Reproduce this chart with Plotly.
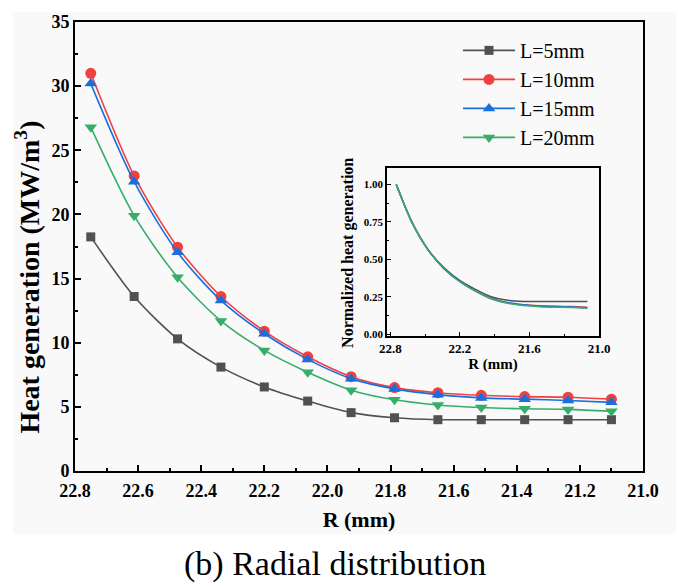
import plotly.graph_objects as go

# ---- data ----
R_mm = [22.75, 22.6125, 22.475, 22.3375, 22.2, 22.0625, 21.925,
        21.7875, 21.65, 21.5125, 21.375, 21.2375, 21.1]
L5 = [18.25, 13.6, 10.3, 8.1, 6.55, 5.45, 4.55, 4.15, 4.0, 4.0, 4.0, 4.0, 4.0]
L10 = [31.0, 23.0, 17.45, 13.6, 10.9, 8.9, 7.35, 6.5, 6.1, 5.9, 5.8, 5.75, 5.6]
L15 = [30.2, 22.55, 17.05, 13.3, 10.7, 8.7, 7.2, 6.4, 5.95, 5.7, 5.6, 5.5, 5.35]
L20 = [26.8, 19.9, 15.1, 11.7, 9.4, 7.7, 6.3, 5.55, 5.15, 4.95, 4.85, 4.8, 4.65]
names = ["L=5mm", "L=10mm", "L=15mm", "L=20mm"]
series = [L5, L10, L15, L20]
colors = ["#515151", "#F14040", "#1A6FDF", "#37AD6B"]
symbols = ["square", "circle", "triangle-up", "triangle-down"]
msizes = [9, 11, 11, 11]
x_ticks = [22.8, 22.6, 22.4, 22.2, 22.0, 21.8, 21.6, 21.4, 21.2, 21.0]
y_ticks = [0, 5, 10, 15, 20, 25, 30, 35]
inset_x_ticks = [22.8, 22.2, 21.6, 21.0]
inset_y_ticks = [0.0, 0.25, 0.5, 0.75, 1.0]

W, H = 678, 588
L_, R_, T_, B_ = 75, 35, 16, 117
pw = W - L_ - R_
ph = H - T_ - B_

def px(x):
    return (x - L_) / pw

def py(y):
    return (H - B_ - y) / ph

FONT = "Liberation Serif"
BG = "#f9f9f9"

fig = go.Figure()
for name, ys, c, s, ms in zip(names, series, colors, symbols, msizes):
    fig.add_trace(go.Scatter(
        x=R_mm, y=ys, name=name, mode="lines+markers",
        line=dict(color=c, width=1.6, shape="spline", smoothing=0.8),
        marker=dict(symbol=s, size=ms, color=c),
        xaxis="x", yaxis="y"))

for name, ys, c in zip(names, series, colors):
    norm = [v / ys[0] for v in ys]
    fig.add_trace(go.Scatter(
        x=R_mm, y=norm, name=name, mode="lines", showlegend=False,
        line=dict(color=c, width=1.5, shape="spline", smoothing=0.8),
        xaxis="x2", yaxis="y2"))

def bold(vals, fmt):
    return [f"<b>{v:{fmt}}</b>" for v in vals]

fig.update_layout(
    width=W, height=H,
    margin=dict(l=L_, r=R_, t=T_, b=B_),
    paper_bgcolor="white", plot_bgcolor=BG,
    font=dict(family=FONT, color="black"),
    showlegend=True,
    legend=dict(x=px(458), y=py(25), xanchor="left", yanchor="top",
                bgcolor="rgba(0,0,0,0)", font=dict(family=FONT, size=20, color="black"),
                itemwidth=52, tracegroupgap=0),
    xaxis=dict(range=[22.8, 21.0], tickvals=x_ticks, ticktext=bold(x_ticks, ".1f"),
               ticks="inside", ticklen=6, tickwidth=1.5, tickcolor="black",
               minor=dict(dtick=0.1, ticks="inside", ticklen=3, tickwidth=1.5, tickcolor="black"),
               showline=True, linecolor="black", linewidth=2, mirror=True,
               showgrid=False, zeroline=False, ticklabelstandoff=2,
               tickfont=dict(family=FONT, size=18, color="black"),
               title=dict(text="<b>R (mm)</b>", font=dict(family=FONT, size=22), standoff=12)),
    yaxis=dict(range=[0, 35], tickvals=y_ticks, ticktext=bold(y_ticks, "d"),
               ticks="inside", ticklen=6, tickwidth=1.5, tickcolor="black",
               minor=dict(dtick=2.5, ticks="inside", ticklen=3, tickwidth=1.5, tickcolor="black"),
               showline=True, linecolor="black", linewidth=2, mirror=True,
               showgrid=False, zeroline=False,
               tickfont=dict(family=FONT, size=18, color="black")),
    xaxis2=dict(domain=[px(387), px(599)], anchor="y2", range=[22.83, 21.0],
                tickvals=inset_x_ticks, ticktext=bold(inset_x_ticks, ".1f"),
                ticks="inside", ticklen=4, tickwidth=1, tickcolor="black",
                minor=dict(dtick=0.3, ticks="inside", ticklen=2, tickwidth=1, tickcolor="black"),
                showline=True, linecolor="black", linewidth=1.5, mirror=True,
                showgrid=False, zeroline=False,
                tickfont=dict(family=FONT, size=13, color="black"),
                title=dict(text="<b>R (mm)</b>", font=dict(family=FONT, size=15), standoff=1)),
    yaxis2=dict(domain=[py(334), py(164)], anchor="x2", range=[-0.01, 1.11],
                tickvals=inset_y_ticks, ticktext=bold(inset_y_ticks, ".2f"),
                ticks="inside", ticklen=4, tickwidth=1, tickcolor="black",
                minor=dict(dtick=0.125, ticks="inside", ticklen=2, tickwidth=1, tickcolor="black"),
                showline=True, linecolor="black", linewidth=1.5, mirror=True,
                showgrid=False, zeroline=False,
                tickfont=dict(family=FONT, size=11, color="black")),
    shapes=[dict(type="rect", xref="paper", yref="paper", layer="below",
                 x0=px(13), x1=px(676), y0=py(535), y1=py(6),
                 fillcolor=BG, line=dict(width=0))],
    annotations=[
        dict(text="<b>Heat generation (MW/m<sup>3</sup>)</b>", xref="paper", yref="paper",
             x=px(28), y=py(275), xanchor="center", yanchor="middle", textangle=-90,
             showarrow=False, font=dict(family=FONT, size=28, color="black")),
        dict(text="<b>Normalized heat generation</b>", xref="paper", yref="paper",
             x=px(348), y=py(250), xanchor="center", yanchor="middle", textangle=-90,
             showarrow=False, font=dict(family=FONT, size=16, color="black")),
        dict(text="(b) Radial distribution", xref="paper", yref="paper",
             x=px(335), y=py(565), xanchor="center", yanchor="middle",
             showarrow=False, font=dict(family=FONT, size=34, color="black")),
    ],
)

fig.write_html("out.html")
